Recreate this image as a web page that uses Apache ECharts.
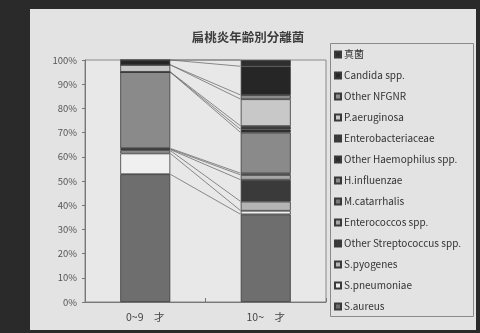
<!DOCTYPE html>
<html>
<head>
<meta charset="utf-8">
<script src="https://cdn.jsdelivr.net/npm/echarts/dist/echarts.min.js"></script>
<style>
  html, body { margin: 0; padding: 0; background: #2a2a2a; }
  #chart { width: 480px; height: 333px; }
</style>
</head>
<body>
<div id="chart"></div>
<script>
// Age groups on the x axis
const categories = ['0~9　才', '10~　才'];

// Organisms, stacked from the bottom of each column upward
const organisms = [
  'S.aureus', 'S.pneumoniae', 'S.pyogenes', 'Other Streptococcus spp.',
  'Enterococcos spp.', 'M.catarrhalis', 'H.influenzae', 'Other Haemophilus spp.',
  'Enterobacteriaceae', 'P.aeruginosa', 'Other NFGNR', 'Candida spp.', '真菌'
];

// Share of isolates (%) per organism, same order as above
const age0to9 = [52.8, 8.6, 1.2, 0.4, 0.2, 0.3, 31.5, 0, 0.1, 2.9, 0, 2.0, 0];
const age10up = [36.2, 1.5, 3.8, 9.0, 2.0, 0.7, 16.8, 1.3, 1.4, 11.1, 1.7, 11.9, 2.6];

// Y axis tick labels
const yTickLabels = ['0%', '10%', '20%', '30%', '40%', '50%', '60%', '70%', '80%', '90%', '100%'];

// Grayscale fills per organism
const fills = [
  '#6e6e6e', '#f0f0f0', '#b4b4b4', '#3a3a3a',
  '#a6a6a6', '#7a7a7a', '#8a8a8a', '#2c2c2c',
  '#3c3c3c', '#c8c8c8', '#8c8c8c', '#262626', '#2e2e2e'
];

const BAR_W = 50;

// Cumulative tops of each organism in both columns, for the connecting series lines
function cumulative(arr) {
  let s = 0;
  return arr.map(v => (s += v));
}
const top0 = cumulative(age0to9);
const top1 = cumulative(age10up);
const seriesLineData = organisms.map((_, i) => [0, top0[i], top1[i]]);

const chart = echarts.init(document.getElementById('chart'), null, { renderer: 'canvas' });

const barSeries = organisms.map((name, i) => ({
  name: name,
  type: 'bar',
  stack: 'total',
  barWidth: BAR_W,
  data: [age0to9[i], age10up[i]],
  itemStyle: { color: fills[i], borderColor: '#3a3a3a', borderWidth: 0.8 },
  emphasis: { disabled: true },
  z: 3
}));

const option = {
  backgroundColor: '#2a2a2a',
  animation: false,
  graphic: [
    { type: 'rect', z: -10, shape: { x: 30, y: 9, width: 446, height: 321 },
      style: { fill: '#e3e3e3' } },
    { type: 'rect', z: -9, shape: { x: 330.5, y: 43.5, width: 143, height: 273 },
      style: { fill: 'transparent', stroke: '#8a8a8a', lineWidth: 1 } }
  ],
  title: {
    text: '扁桃炎年齢別分離菌',
    left: 243,
    textAlign: 'center',
    top: 26,
    textStyle: {
      fontFamily: 'Noto Sans CJK JP',
      fontSize: 12.5,
      fontWeight: 'bold',
      color: '#3c3c3c'
    }
  },
  legend: {
    data: organisms.slice().reverse(),
    orient: 'vertical',
    left: 334,
    top: 49,
    padding: 0,
    itemWidth: 6,
    itemHeight: 6,
    itemGap: 10,
    selectedMode: false,
    icon: 'rect',
    textStyle: {
      fontFamily: 'Noto Sans CJK JP',
      fontSize: 10,
      color: '#333',
      lineHeight: 11,
      padding: [0, 0, 0, -2]
    }
  },
  grid: {
    left: 85,
    top: 60,
    right: 154,
    bottom: 31,
    show: true,
    backgroundColor: '#e8e8e8',
    borderColor: '#8a8a8a',
    borderWidth: 1
  },
  xAxis: {
    type: 'category',
    data: categories,
    axisLine: { show: true, lineStyle: { color: '#777' } },
    axisTick: { show: true, inside: true, length: 4, lineStyle: { color: '#777' } },
    axisLabel: {
      margin: 10,
      fontFamily: 'Noto Sans CJK JP',
      fontSize: 10.5,
      color: '#444'
    }
  },
  yAxis: {
    type: 'value',
    min: 0,
    max: 100,
    interval: 10,
    axisLine: { show: true, lineStyle: { color: '#777' } },
    axisTick: { show: true, length: 3, lineStyle: { color: '#777' } },
    splitLine: { show: false },
    axisLabel: {
      margin: 8,
      fontFamily: 'Noto Sans CJK JP',
      fontSize: 9.5,
      color: '#555',
      formatter: (v) => yTickLabels[Math.round(v / 10)]
    }
  },
  series: barSeries.concat([{
    name: 'series-lines',
    type: 'custom',
    silent: true,
    z: 2,
    encode: { x: 0, y: [1, 2] },
    data: seriesLineData,
    renderItem: function (params, api) {
      const a = api.coord([0, api.value(1)]);
      const b = api.coord([1, api.value(2)]);
      return {
        type: 'line',
        shape: { x1: a[0] + BAR_W / 2, y1: a[1], x2: b[0] - BAR_W / 2, y2: b[1] },
        style: { stroke: '#6e6e6e', lineWidth: 0.8 }
      };
    }
  }])
};

chart.setOption(option);
</script>
</body>
</html>
